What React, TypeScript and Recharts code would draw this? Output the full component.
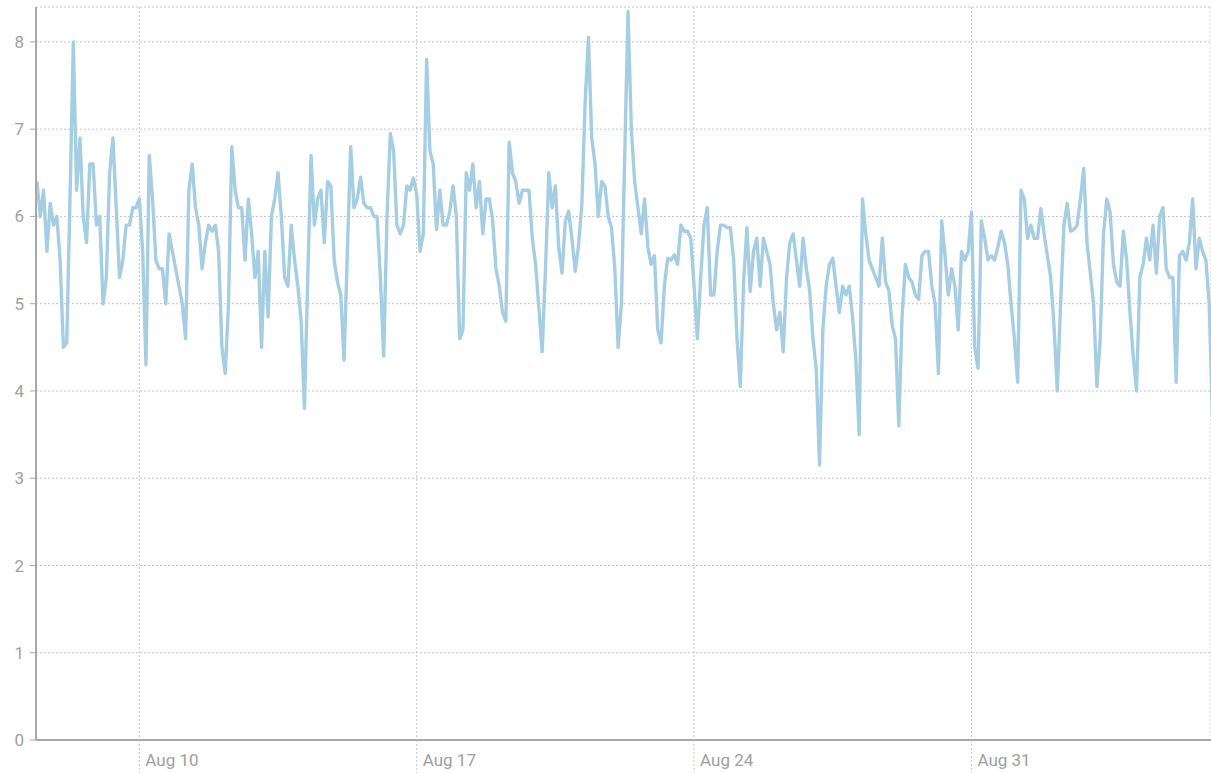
import { LineChart, Line, XAxis, YAxis, CartesianGrid } from "recharts";

// readings every 2 hours, first one at Aug 7 10:00 (hours counted from Aug 10 00:00)
const START_HOUR = -62;
const STEP_HOURS = 2;

const values = [
  6.4, 6.0, 6.3, 5.6, 6.15, 5.9, 6.0, 5.5, 4.5, 4.55, 6.2, 8.0, 6.3, 6.9, 6.0, 5.7,
  6.6, 6.6, 5.9, 6.0, 5.0, 5.3, 6.5, 6.9, 6.1, 5.3, 5.5, 5.9, 5.9, 6.1, 6.1, 6.2,
  5.6, 4.3, 6.7, 6.2, 5.5, 5.4, 5.4, 5.0, 5.8, 5.6, 5.4, 5.2, 5.0, 4.6, 6.3, 6.6,
  6.1, 5.9, 5.4, 5.7, 5.9, 5.83, 5.9, 5.6, 4.5, 4.2, 5.0, 6.8, 6.3, 6.1, 6.1, 5.5,
  6.2, 5.8, 5.3, 5.6, 4.5, 5.6, 4.85, 6.0, 6.2, 6.5, 6.0, 5.3, 5.2, 5.9, 5.5, 5.2,
  4.8, 3.8, 5.3, 6.7, 5.9, 6.2, 6.3, 5.7, 6.4, 6.35, 5.5, 5.25, 5.1, 4.35, 5.6, 6.8,
  6.1, 6.2, 6.45, 6.15, 6.1, 6.1, 6.0, 6.0, 5.3, 4.4, 6.0, 6.95, 6.75, 5.9, 5.8, 5.9,
  6.35, 6.3, 6.44, 6.25, 5.6, 5.8, 7.8, 6.75, 6.6, 5.85, 6.3, 5.9, 5.9, 6.05, 6.35, 6.0,
  4.6, 4.7, 6.5, 6.3, 6.6, 6.1, 6.4, 5.8, 6.2, 6.2, 5.95, 5.4, 5.2, 4.9, 4.8, 6.85,
  6.5, 6.4, 6.15, 6.3, 6.3, 6.3, 5.75, 5.45, 4.95, 4.45, 5.4, 6.5, 6.1, 6.35, 5.65, 5.35,
  5.94, 6.06, 5.75, 5.37, 5.67, 6.13, 7.3, 8.05, 6.9, 6.6, 6.0, 6.4, 6.35, 6.0, 5.87, 5.4,
  4.5, 5.0, 6.7, 8.35, 7.0, 6.4, 6.1, 5.8, 6.2, 5.65, 5.45, 5.55, 4.7, 4.55, 5.2, 5.52,
  5.5, 5.56, 5.45, 5.9, 5.83, 5.83, 5.75, 5.2, 4.6, 5.3, 5.9, 6.1, 5.1, 5.1, 5.6, 5.9,
  5.9, 5.87, 5.87, 5.5, 4.6, 4.05, 5.25, 5.87, 5.14, 5.6, 5.75, 5.2, 5.75, 5.6, 5.45, 5.0,
  4.7, 4.9, 4.45, 5.3, 5.7, 5.8, 5.5, 5.2, 5.75, 5.4, 5.15, 4.6, 4.25, 3.15, 4.7, 5.2,
  5.45, 5.52, 5.2, 4.9, 5.2, 5.1, 5.2, 4.85, 4.35, 3.5, 6.2, 5.8, 5.5, 5.4, 5.3, 5.2,
  5.75, 5.25, 5.15, 4.75, 4.6, 3.6, 4.85, 5.45, 5.3, 5.25, 5.1, 5.05, 5.55, 5.6, 5.6, 5.2,
  5.0, 4.2, 5.95, 5.55, 5.1, 5.4, 5.2, 4.7, 5.6, 5.5, 5.6, 6.05, 4.5, 4.26, 5.95, 5.75,
  5.5, 5.55, 5.5, 5.65, 5.83, 5.7, 5.45, 5.0, 4.6, 4.1, 6.3, 6.2, 5.75, 5.9, 5.75, 5.75,
  6.09, 5.8, 5.55, 5.3, 4.75, 4.0, 5.0, 5.9, 6.15, 5.83, 5.85, 5.9, 6.2, 6.55, 5.7, 5.35,
  4.99, 4.05, 4.6, 5.8, 6.2, 6.05, 5.45, 5.25, 5.2, 5.83, 5.5, 4.9, 4.4, 4.0, 5.3, 5.45,
  5.75, 5.5, 5.9, 5.35, 6.0, 6.1, 5.4, 5.3, 5.3, 4.1, 5.55, 5.6, 5.5, 5.7, 6.2, 5.4,
  5.75, 5.6, 5.5, 5.0, 3.7,
];

const tickHours = [0, 168, 336, 504];
const tickLabels = ["Aug 10", "Aug 17", "Aug 24", "Aug 31"];
const yTicks = [0, 1, 2, 3, 4, 5, 6, 7, 8];

const data = values.map((v, i) => ({ t: START_HOUR + i * STEP_HOURS, v }));

const FONT = "Roboto, sans-serif";

function DateTick(props: any) {
  const { x, y, payload } = props;
  const label = tickLabels[tickHours.indexOf(payload.value)];
  return (
    <g>
      <line x1={x} x2={x} y1={y} y2={y + 34} stroke="#c4c4c4" strokeDasharray="2 2" />
      <text x={x + 6} y={y + 26} fill="#a0a0a0" fontSize={17} fontFamily={FONT}>
        {label}
      </text>
    </g>
  );
}

export default function App() {
  return (
    <div
      style={{
        position: "absolute",
        left: 0,
        top: 0,
        width: 1211,
        height: 773,
        overflow: "hidden",
        background: "#fff",
      }}
    >
      <LineChart width={1211} height={773} data={data} margin={{ top: 7, right: 0, bottom: 0, left: 0 }}>
        <CartesianGrid stroke="#c4c4c4" strokeDasharray="2 2" />
        <XAxis
          dataKey="t"
          type="number"
          domain={[-62.6, 649.1]}
          allowDataOverflow
          ticks={tickHours}
          height={33}
          tickSize={0}
          tickMargin={0}
          tick={<DateTick />}
          axisLine={{ stroke: "#a8a8a8", strokeWidth: 2 }}
          interval={0}
        />
        <YAxis
          domain={[0, 8.4]}
          ticks={yTicks}
          width={36}
          tickSize={6}
          tickMargin={6}
          interval={0}
          tick={{ fill: "#a0a0a0", fontSize: 17, fontFamily: FONT }}
          tickLine={{ stroke: "#a8a8a8" }}
          axisLine={{ stroke: "#a8a8a8", strokeWidth: 2 }}
        />
        <Line
          type="linear"
          dataKey="v"
          stroke="#a6cee3"
          strokeWidth={3.4}
          strokeLinejoin="round"
          dot={false}
          isAnimationActive={false}
        />
      </LineChart>
    </div>
  );
}
